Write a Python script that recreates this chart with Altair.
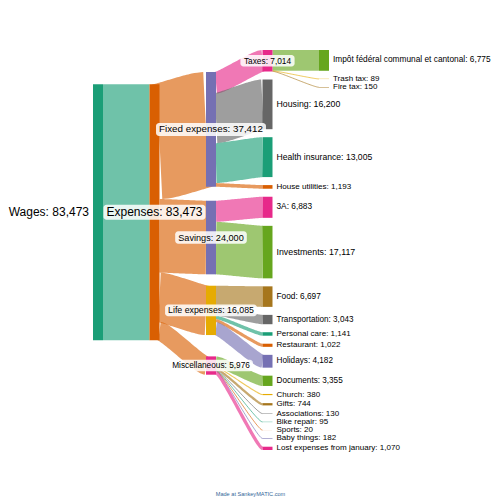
import altair as alt
import pandas as pd
import numpy as np

# ---------------- data ----------------
SRC = ["Wages",
       "Expenses", "Fixed expenses", "Taxes", "Taxes", "Taxes",
       "Fixed expenses", "Fixed expenses", "Fixed expenses",
       "Expenses", "Savings", "Savings",
       "Expenses", "Life expenses", "Life expenses", "Life expenses", "Life expenses", "Life expenses",
       "Expenses", "Miscellaneous", "Miscellaneous", "Miscellaneous", "Miscellaneous",
       "Miscellaneous", "Miscellaneous", "Miscellaneous", "Miscellaneous"]
TGT = ["Expenses",
       "Fixed expenses", "Taxes", "Impôt fédéral communal et cantonal", "Trash tax", "Fire tax",
       "Housing", "Health insurance", "House utilities",
       "Savings", "3A", "Investments",
       "Life expenses", "Food", "Transportation", "Personal care", "Restaurant", "Holidays",
       "Miscellaneous", "Documents", "Church", "Gifts", "Associations",
       "Bike repair", "Sports", "Baby things", "Lost expenses from january"]
VAL = [83473,
       37412, 7014, 6775, 89, 150,
       16200, 13005, 1193,
       24000, 6883, 17117,
       16085, 6697, 3043, 1141, 1022, 4182,
       5976, 3355, 380, 744, 130,
       95, 20, 182, 1070]

DARK2 = ["#1b9e77", "#d95f02", "#7570b3", "#e7298a",
         "#66a61e", "#e6ab02", "#a6761d", "#666666"]

# ---------------- layout settings (page pixels) ----------------
X0, STEP, NODE_W = 93.0, 56.5, 10.0
Y_TOP, Y_BOT, GAP = 50.0, 450.0, 8.0
CURVE = 0.12
LINK_OPACITY = 0.63
FONT = "Liberation Sans"

# ---------------- sankey layout ----------------
nodes = []
for s, t in zip(SRC, TGT):
    for n in (s, t):
        if n not in nodes:
            nodes.append(n)
idx = {n: i for i, n in enumerate(nodes)}
N, L = len(nodes), len(VAL)
inv, outv = [0] * N, [0] * N
for s, t, v in zip(SRC, TGT, VAL):
    outv[idx[s]] += v
    inv[idx[t]] += v
nval = [max(a, b) for a, b in zip(inv, outv)]
stage = [0] * N
for _ in range(N):
    for s, t in zip(SRC, TGT):
        stage[idx[t]] = max(stage[idx[t]], stage[idx[s]] + 1)
ncol = max(stage) + 1
cols = [[i for i in range(N) if stage[i] == c] for c in range(ncol)]
ky = min((Y_BOT - Y_TOP - (len(c) - 1) * GAP) / sum(nval[i] for i in c) for c in cols)
h = [nval[i] * ky for i in range(N)]
lw = [v * ky for v in VAL]
y0 = [0.0] * N
for c in cols:
    y = Y_TOP
    for i in c:
        y0[i] = y
        y += h[i] + GAP

in_links = [[k for k in range(L) if idx[TGT[k]] == i] for i in range(N)]
out_links = [[k for k in range(L) if idx[SRC[k]] == i] for i in range(N)]


def offsets():
    sy, ty = [0.0] * L, [0.0] * L
    acc_o, acc_i = list(y0), list(y0)
    for k in range(L):
        s, t = idx[SRC[k]], idx[TGT[k]]
        sy[k] = acc_o[s] + lw[k] / 2
        acc_o[s] += lw[k]
        ty[k] = acc_i[t] + lw[k] / 2
        acc_i[t] += lw[k]
    return sy, ty


def resolve(c):
    y = Y_TOP
    for i in c:
        if y0[i] < y:
            y0[i] = y
        y = y0[i] + h[i] + GAP
    y = Y_BOT
    for i in reversed(c):
        if y0[i] + h[i] > y:
            y0[i] = y - h[i]
        y = y0[i] - GAP


for it in range(150):
    for c in list(range(ncol)) + list(range(ncol - 1, -1, -1)):
        sy, ty = offsets()
        for i in cols[c]:
            parts = []
            if in_links[i]:
                parts.append(sum(sy[k] * VAL[k] for k in in_links[i]) / sum(VAL[k] for k in in_links[i]))
            if out_links[i]:
                parts.append(sum(ty[k] * VAL[k] for k in out_links[i]) / sum(VAL[k] for k in out_links[i]))
            y0[i] = float(np.mean(parts)) - h[i] / 2
        resolve(cols[c])

sy, ty = offsets()
colx = [X0 + STEP * stage[i] for i in range(N)]
ncolor = [DARK2[i % len(DARK2)] for i in range(N)]
mid_stage = (ncol - 1) / 2

# ---------------- link paths (cubic bezier) ----------------
rows = []
ts = np.linspace(0, 1, 41)
for k in range(L):
    s, t = idx[SRC[k]], idx[TGT[k]]
    xs, xt = colx[s] + NODE_W, colx[t]
    dx = xt - xs
    p1, p2 = xs + CURVE * dx, xt - CURVE * dx
    col = ncolor[s] if (stage[s] + stage[t]) / 2 < mid_stage else ncolor[t]
    for j, u in enumerate(ts):
        a, b, c2, d = (1 - u) ** 3, 3 * (1 - u) ** 2 * u, 3 * (1 - u) * u ** 2, u ** 3
        rows.append(dict(link=k, o=j,
                         x=a * xs + b * p1 + c2 * p2 + d * xt,
                         y=(a + b) * sy[k] + (c2 + d) * ty[k],
                         w=max(1.0, lw[k]), color=col))
links_df = pd.DataFrame(rows)

nodes_df = pd.DataFrame(dict(
    name=nodes, x=colx, x2=[c + NODE_W for c in colx],
    y=y0, y2=[a + b for a, b in zip(y0, h)], color=ncolor))

# ---------------- labels ----------------
W = {' ': 278, ',': 278, ':': 278, '.': 278, 'a': 556, 'b': 556, 'c': 500, 'd': 556, 'e': 556,
     'f': 278, 'g': 556, 'h': 556, 'i': 222, 'j': 222, 'k': 500, 'l': 222, 'm': 833, 'n': 556,
     'o': 556, 'p': 556, 'q': 556, 'r': 333, 's': 500, 't': 278, 'u': 556, 'v': 500, 'w': 722,
     'x': 500, 'y': 500, 'z': 500, 'E': 667, 'F': 611, 'L': 556, 'M': 833, 'S': 667, 'T': 611,
     'W': 944, 'I': 278, 'H': 722}


def text_w(s, fs):
    return sum(W.get(ch, 556) for ch in s) / 1000 * fs


vmax = max(nval)
lab_l, lab_r, lab_c, boxes = [], [], [], []
for i, n in enumerate(nodes):
    txt = f"{n}: {nval[i]:,}"
    fs = 8 + 4 * nval[i] / vmax
    cy = y0[i] + h[i] / 2
    if not in_links[i]:
        lab_l.append(dict(x=colx[i] - 4, y=cy, text=txt, fs=fs))
    elif not out_links[i]:
        lab_r.append(dict(x=colx[i] + NODE_W + 4, y=cy, text=txt, fs=fs))
    else:
        cx = colx[i] + NODE_W / 2
        tw = text_w(txt, fs)
        bh = fs + 3.2
        lab_c.append(dict(x=cx, y=cy, text=txt, fs=fs))
        boxes.append(dict(x=cx - tw / 2 - 3, x2=cx + tw / 2 + 3, y=cy - bh / 2, y2=cy + bh / 2))

WIDTH, HEIGHT = 484, 490
xs_ = alt.Scale(domain=[8, 8 + WIDTH], nice=False, zero=False)
ys_ = alt.Scale(domain=[8, 8 + HEIGHT], nice=False, zero=False, reverse=True)
X = lambda f: alt.X(f, type="quantitative", scale=xs_, axis=None)
Y = lambda f: alt.Y(f, type="quantitative", scale=ys_, axis=None)

link_layer = alt.Chart(links_df).mark_line(opacity=LINK_OPACITY, strokeCap="butt").encode(
    x=X("x"), y=Y("y"),
    detail="link:N", order="o:Q",
    color=alt.Color("color:N", scale=None),
    strokeWidth=alt.StrokeWidth("w:Q", scale=None))

node_layer = alt.Chart(nodes_df).mark_rect().encode(
    x=X("x"), x2="x2", y=Y("y"), y2="y2",
    color=alt.Color("color:N", scale=None))

box_layer = alt.Chart(pd.DataFrame(boxes)).mark_rect(
    fill="white", opacity=0.85, cornerRadius=3).encode(
    x=X("x"), x2="x2", y=Y("y"), y2="y2")


def text_layer(rows_, align):
    return alt.Chart(pd.DataFrame(rows_)).mark_text(
        font=FONT, align=align, baseline="middle", color="#000000").encode(
        x=X("x"), y=Y("y"), text="text:N",
        size=alt.Size("fs:Q", scale=None))


footer = alt.Chart(pd.DataFrame([dict(x=250.5, y=494.0, text="Made at SankeyMATIC.com")])).mark_text(
    font=FONT, align="center", baseline="middle", fontSize=5.6, color="#336699").encode(
    x=X("x"), y=Y("y"), text="text:N")

chart = alt.layer(
    link_layer, node_layer, box_layer,
    text_layer(lab_l, "right"), text_layer(lab_r, "left"), text_layer(lab_c, "center"),
    footer
).properties(
    width=WIDTH, height=HEIGHT, padding=0,
    autosize=alt.AutoSizeParams(type="none")
).configure_view(stroke=None)

chart.save("out.html", embed_options={"renderer": "svg", "actions": False})
